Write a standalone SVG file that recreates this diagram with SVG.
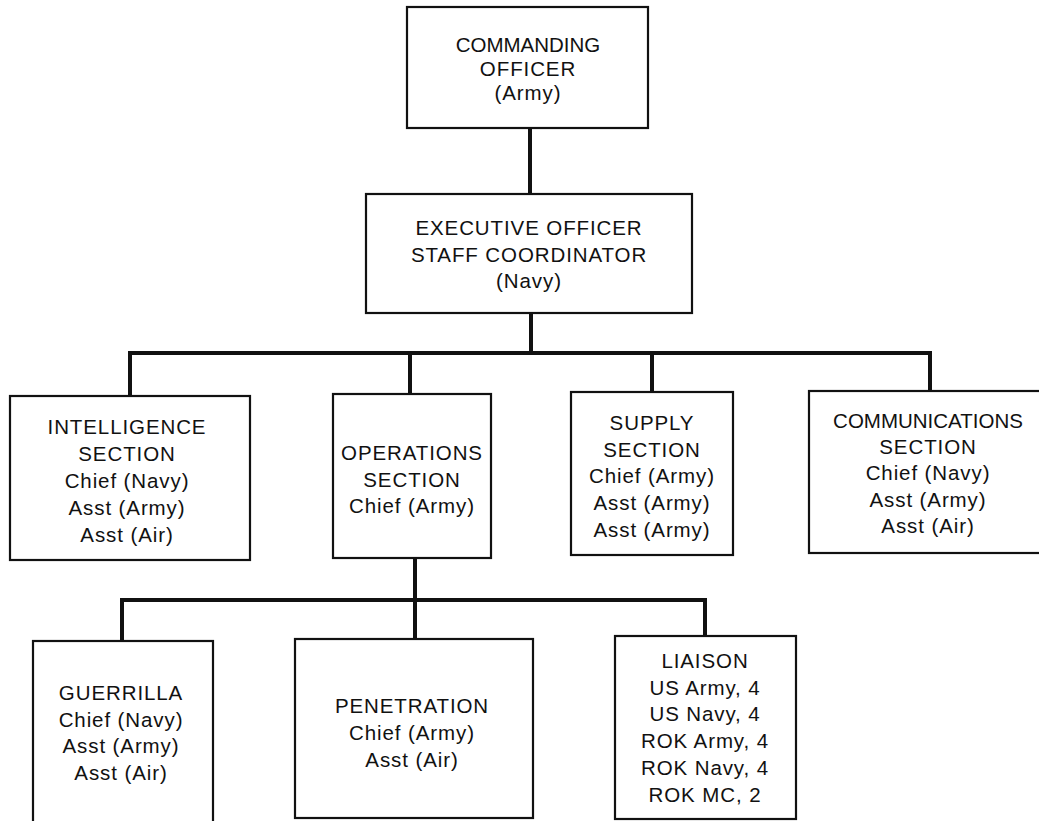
<svg xmlns="http://www.w3.org/2000/svg" width="1039" height="821" viewBox="0 0 1039 821">
  <style>
    .box { fill: #ffffff; stroke: #111111; stroke-width: 2.2; }
    .conn { fill: none; stroke: #111111; stroke-width: 4; stroke-linejoin: miter; stroke-linecap: square; }
    text { font-family: "Liberation Sans", Arial, sans-serif; font-size: 20.5px; fill: #111111; text-anchor: middle; letter-spacing: 0.9px; }
    text.tight { letter-spacing: 0; }
  </style>
  <rect width="1039" height="821" fill="#ffffff"/>

  <!-- connectors -->
  <g id="connectors">
    <path class="conn" d="M530,129 V193"/>
    <path class="conn" d="M531,314 V353"/>
    <path class="conn" d="M130,396 V353 H930 V391"/>
    <path class="conn" d="M410,353 V394"/>
    <path class="conn" d="M652,353 V392"/>
    <path class="conn" d="M415,558 V639"/>
    <path class="conn" d="M122,641 V600 H705 V636"/>
  </g>

  <g id="commanding-officer">
    <rect class="box" x="407" y="7" width="241" height="121"/>
    <text class="tight" x="528" y="52">COMMANDING</text>
    <text x="528" y="76">OFFICER</text>
    <text x="528" y="100">(Army)</text>
  </g>

  <g id="executive-officer">
    <rect class="box" x="366" y="194" width="326" height="119"/>
    <text x="529" y="235">EXECUTIVE OFFICER</text>
    <text x="529" y="262">STAFF COORDINATOR</text>
    <text x="529" y="288">(Navy)</text>
  </g>

  <g id="intelligence">
    <rect class="box" x="10" y="396" width="240" height="164"/>
    <text x="127" y="434">INTELLIGENCE</text>
    <text x="127" y="461">SECTION</text>
    <text x="127" y="488">Chief (Navy)</text>
    <text x="127" y="515">Asst (Army)</text>
    <text x="127" y="542">Asst (Air)</text>
  </g>

  <g id="operations">
    <rect class="box" x="333" y="394" width="158" height="164"/>
    <text x="412" y="460">OPERATIONS</text>
    <text x="412" y="487">SECTION</text>
    <text x="412" y="513">Chief (Army)</text>
  </g>

  <g id="supply">
    <rect class="box" x="571" y="392" width="162" height="163"/>
    <text x="652" y="430">SUPPLY</text>
    <text x="652" y="457">SECTION</text>
    <text x="652" y="483">Chief (Army)</text>
    <text x="652" y="510">Asst (Army)</text>
    <text x="652" y="537">Asst (Army)</text>
  </g>

  <g id="communications">
    <rect class="box" x="809" y="391" width="240" height="162"/>
    <text class="tight" x="928" y="428">COMMUNICATIONS</text>
    <text x="928" y="454">SECTION</text>
    <text x="928" y="480">Chief (Navy)</text>
    <text x="928" y="507">Asst (Army)</text>
    <text x="928" y="533">Asst (Air)</text>
  </g>

  <g id="guerrilla">
    <rect class="box" x="33" y="641" width="180" height="190"/>
    <text x="121" y="700">GUERRILLA</text>
    <text x="121" y="727">Chief (Navy)</text>
    <text x="121" y="753">Asst (Army)</text>
    <text x="121" y="780">Asst (Air)</text>
  </g>

  <g id="penetration">
    <rect class="box" x="295" y="639" width="238" height="179"/>
    <text x="412" y="713">PENETRATION</text>
    <text x="412" y="740">Chief (Army)</text>
    <text x="412" y="767">Asst (Air)</text>
  </g>

  <g id="liaison">
    <rect class="box" x="615" y="636" width="181" height="183"/>
    <text x="705" y="668">LIAISON</text>
    <text x="705" y="695">US Army, 4</text>
    <text x="705" y="721">US Navy, 4</text>
    <text x="705" y="748">ROK Army, 4</text>
    <text x="705" y="775">ROK Navy, 4</text>
    <text x="705" y="802">ROK MC, 2</text>
  </g>
</svg>
